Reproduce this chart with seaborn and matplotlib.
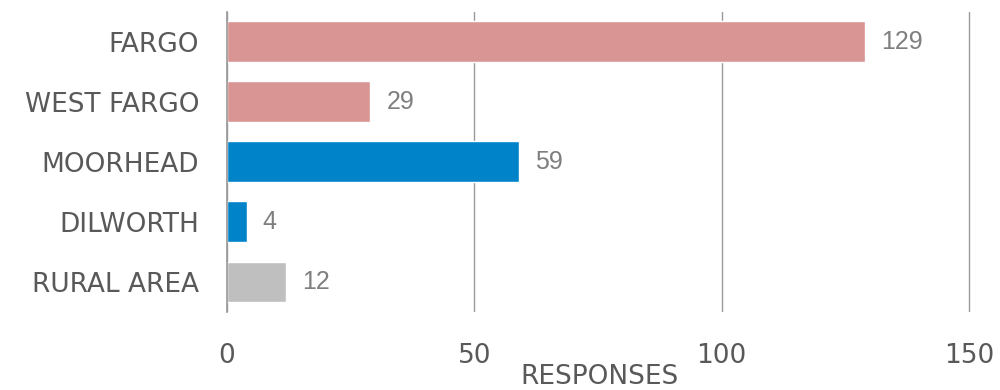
import pandas as pd
import matplotlib.pyplot as plt
import seaborn as sns

places = ["FARGO", "WEST FARGO", "MOORHEAD", "DILWORTH", "RURAL AREA"]
responses = [129, 29, 59, 4, 12]
bar_colors = ["#D99594", "#D99594", "#0083C9", "#0083C9", "#BFBFBF"]
x_ticks = [0, 50, 100, 150]

df = pd.DataFrame({"Place": places, "Responses": responses})

sns.set_theme(style="white")
plt.rcParams["font.family"] = ["DejaVu Sans"]

fig = plt.figure(figsize=(10, 3.9), dpi=100)
ax = fig.add_axes([0.227, 0.2, 0.745, 0.77])

sns.barplot(data=df, y="Place", x="Responses", hue="Place", palette=bar_colors,
            legend=False, width=0.68, saturation=1, ax=ax)

for i, v in enumerate(responses):
    ax.text(v + 3.2, i, str(v), va="center", ha="left", fontsize=18,
            color="#7F7F7F", family=["Liberation Sans", "DejaVu Sans"])

ax.set_xlim(0, 150.6)
ax.set_xticks(x_ticks)
ax.xaxis.grid(True, color="#9A9A9A", linewidth=1)
ax.set_axisbelow(True)
for s in ["top", "right", "bottom"]:
    ax.spines[s].set_visible(False)
ax.spines["left"].set_color("#9A9A9A")
ax.tick_params(axis="both", length=0, colors="#595959")
ax.tick_params(axis="y", labelsize=19, pad=20)
ax.tick_params(axis="x", labelsize=19, pad=22)
ax.set_ylabel("")
ax.set_xlabel("RESPONSES", fontsize=19, color="#595959", labelpad=-3)

fig.savefig("out.png", dpi=100)
